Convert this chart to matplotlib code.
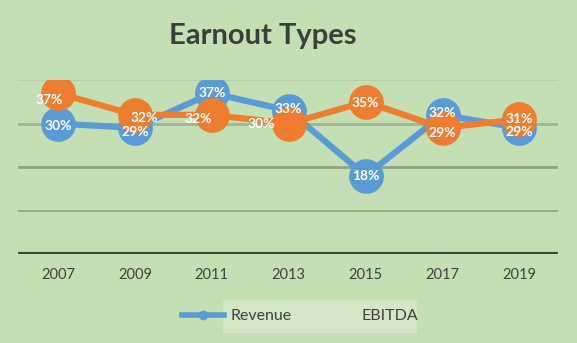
import matplotlib
matplotlib.use('Agg')
import matplotlib.pyplot as plt
from matplotlib.lines import Line2D
from matplotlib.patches import Rectangle

plt.rcParams['font.family'] = ['Lato', 'DejaVu Sans']

# data
years = ['2007', '2009', '2011', '2013', '2015', '2017', '2019']
revenue = [30, 29, 37, 33, 18, 32, 29]
ebitda = [37, 32, 32, 30, 35, 29, 31]

bg = '#C5DFB4'
blue = '#5B9BD5'
orange = '#ED7D31'

fig = plt.figure(figsize=(5.77, 3.43), dpi=100, facecolor=bg)
ax = fig.add_axes([0.031, 0.2595, 0.936, 0.507], facecolor=bg)

x = list(range(len(years)))

# gridlines
ax.axhline(40, color='#B4CDA3', lw=1.2, zorder=0)
ax.axhline(30, color='#A3B396', lw=2, zorder=0)
ax.axhline(20, color='#8FA382', lw=2, zorder=0)
ax.axhline(10, color='#97AC89', lw=1.5, zorder=0)
ax.axhline(0, color='#3C4838', lw=3, zorder=1)

ax.plot(x, revenue, color=blue, lw=4.5, marker='o', ms=24, zorder=3)
ax.plot(x, ebitda, color=orange, lw=4.5, marker='o', ms=24, zorder=4)

# data labels
rev_off = [(0, -2), (0, -3), (0, 0), (0, 1), (0, 0), (0, 1), (0, -3)]
ebit_off = [(-6, -5), (7, -2), (-10, -3), (-20, 0), (0, -1), (0, -4), (0, 0)]
for i in x:
    ax.annotate(f'{revenue[i]}%', (i, revenue[i]), xytext=rev_off[i], textcoords='offset points',
                ha='center', va='center', color='white', fontsize=10, fontweight='bold', zorder=6)
    ax.annotate(f'{ebitda[i]}%', (i, ebitda[i]), xytext=ebit_off[i], textcoords='offset points',
                ha='center', va='center', color='white', fontsize=10, fontweight='bold', zorder=6)

ax.set_xlim(-0.52, 6.5)
ax.set_ylim(0, 40)
ax.set_xticks(x)
ax.set_xticklabels(years, fontsize=10.5, color='#404040')
ax.set_yticks([])
ax.tick_params(axis='x', length=0, pad=10)
for s in ax.spines.values():
    s.set_visible(False)

fig.text(0.455, 0.895, 'Earnout Types', ha='center', va='center', fontsize=21,
         fontweight='bold', color='#3A3F38')

# legend with lighter box behind the text part
fig.patches.append(Rectangle((223 / 577, 10 / 343), 194 / 577, 33 / 343,
                             transform=fig.transFigure, facecolor='#D3E6C6',
                             edgecolor='none', zorder=0))
handles = [Line2D([], [], color=blue, lw=4, marker='o', ms=6),
           Line2D([], [], color='none')]
fig.legend(handles, ['Revenue', 'EBITDA'], loc='center left', bbox_to_anchor=(0.291, 0.078),
           ncol=2, frameon=False, fontsize=11.5, labelcolor='#404040',
           handlelength=2.6, handletextpad=0.4, columnspacing=1.4)

fig.savefig('out.png', dpi=100, facecolor=bg)
